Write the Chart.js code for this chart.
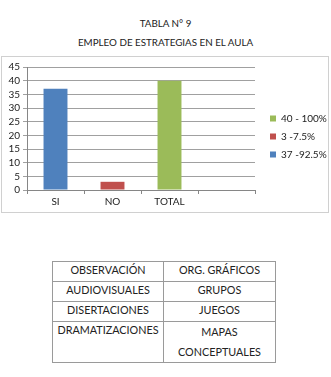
<!DOCTYPE html>
<html>
<head>
<meta charset="utf-8">
<script src="https://cdn.jsdelivr.net/npm/chart.js@4"></script>
<style>
  html, body { margin: 0; padding: 0; background: #fff; }
  body { width: 331px; height: 377px; position: relative; overflow: hidden; font-family: Lato, "Open Sans", sans-serif; color: #222; }
  .t { position: absolute; left: 0; width: 331px; text-align: center; font-size: 9.8px; }
  #box { position: absolute; left: 1px; top: 56px; width: 328px; height: 157px; border: 1px solid #d0d0d0; box-sizing: border-box; }
  #box canvas { position: absolute; left: 0; top: 0; }
  table { position: absolute; left: 52px; top: 261px; border-collapse: collapse; font-size: 10.8px; color: #222; }
  td { border: 1px solid #9a9a9a; text-align: center; vertical-align: top; padding: 0; height: 19px; line-height: 16px; }
  td.a { width: 110px; } td.b { width: 111px; }
</style>
</head>
<body>
<div class="t" style="top:17px">TABLA N° 9</div>
<div class="t" style="top:36px">EMPLEO DE ESTRATEGIAS EN EL AULA</div>
<div id="box"><canvas id="c" width="326" height="155"></canvas></div>
<table>
  <tr><td class="a">OBSERVACIÓN</td><td class="b">ORG. GRÁFICOS</td></tr>
  <tr><td class="a">AUDIOVISUALES</td><td class="b">GRUPOS</td></tr>
  <tr><td class="a">DISERTACIONES</td><td class="b">JUEGOS</td></tr>
  <tr><td class="a" style="height:40px">DRAMATIZACIONES</td><td class="b" style="height:40px;line-height:20px">MAPAS<br>CONCEPTUALES</td></tr>
</table>
<script>
const categories = ["SI", "NO", "TOTAL", ""];
const seriesNames = ["37 -92.5%", "3 -7.5%", "40 - 100%"];
const siValues = [37, null, null, null];
const noValues = [null, 3, null, null];
const totalValues = [null, null, 40, null];
const yTicks = [0, 5, 10, 15, 20, 25, 30, 35, 40, 45];
const colors = ["#4F81BD", "#C0504D", "#9BBB59"];

const font = { family: "Lato, 'Open Sans', sans-serif", size: 10 };

const legendShift = {
  id: "legendShift",
  afterLayout(chart) {
    const lg = chart.legend;
    if (!lg) return;
    lg.left += 7; lg.right += 7;
    lg.top -= 3; lg.bottom -= 3;
  }
};

new Chart(document.getElementById("c"), {
  type: "bar",
  data: {
    labels: categories,
    datasets: [
      { label: seriesNames[0], data: siValues, backgroundColor: colors[0] },
      { label: seriesNames[1], data: noValues, backgroundColor: colors[1] },
      { label: seriesNames[2], data: totalValues, backgroundColor: colors[2] }
    ]
  },
  plugins: [legendShift],
  options: {
    responsive: false,
    animation: false,
    categoryPercentage: 1,
    barPercentage: 0.42,
    layout: { padding: { left: 0, top: 10, right: 0, bottom: 0 } },
    plugins: {
      legend: {
        position: "right",
        reverse: true,
        maxWidth: 73,
        labels: { boxWidth: 6, boxHeight: 6, padding: 8, color: "#222", font: font }
      },
      tooltip: { enabled: false }
    },
    scales: {
      x: {
        stacked: true,
        grid: { offset: true, drawOnChartArea: false, drawTicks: true, tickLength: 4, color: "#868686" },
        border: { color: "#868686" },
        ticks: { color: "#222", font: font, padding: 2 },
        afterFit: s => { s.height = 22; }
      },
      y: {
        stacked: true,
        min: 0, max: 45,
        afterBuildTicks: s => { s.ticks = yTicks.map(v => ({ value: v })); },
        grid: { color: "#a0a0a0", drawTicks: true, tickLength: 4 },
        border: { color: "#868686" },
        ticks: { color: "#222", font: font, padding: 3, autoSkip: false },
        afterFit: s => { s.width = 25; }
      }
    }
  }
});
</script>
</body>
</html>
